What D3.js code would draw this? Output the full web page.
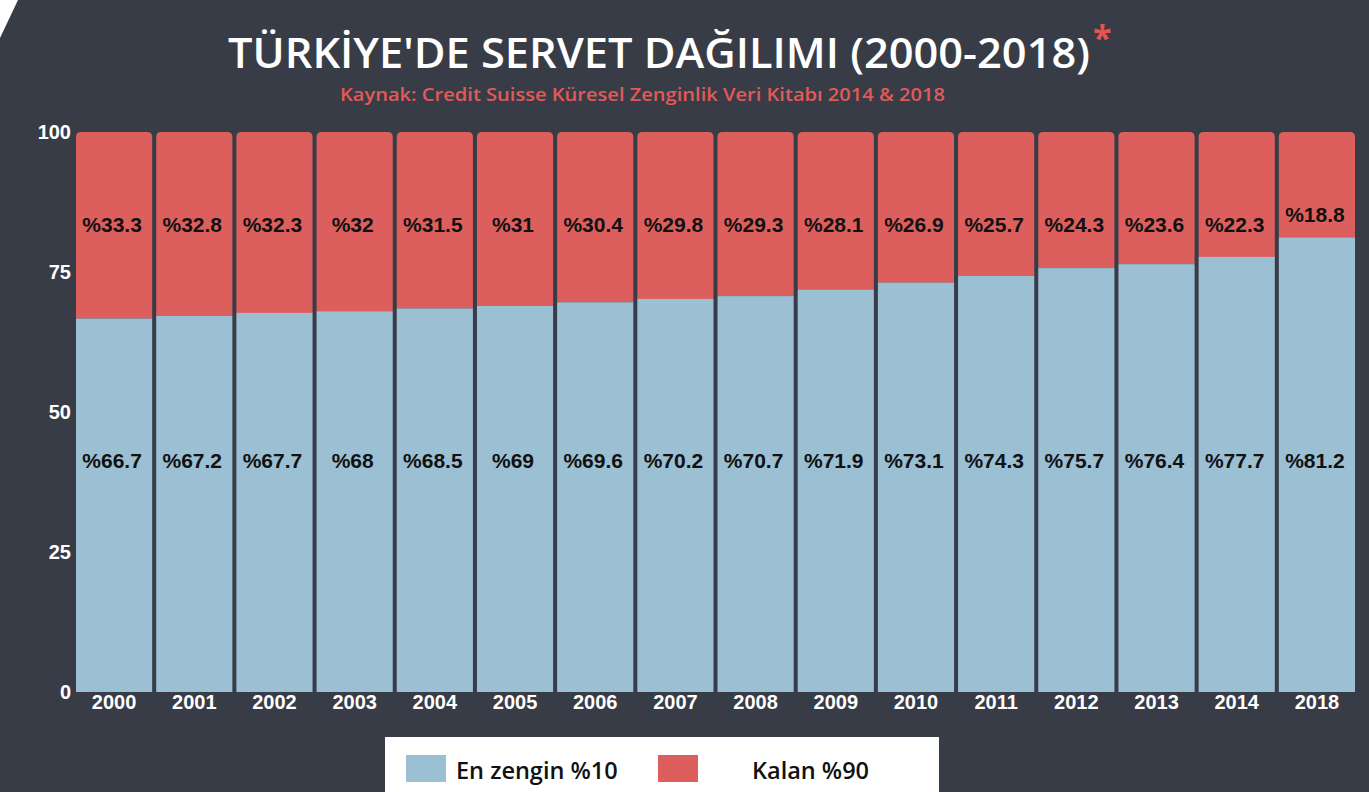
<!DOCTYPE html>
<html><head><meta charset="utf-8">
<script src="https://cdn.jsdelivr.net/npm/d3@7"></script>
<style>html,body{margin:0;padding:0;background:#373c47;overflow:hidden}</style>
</head><body>
<svg id="c" width="1369" height="792"></svg>
<script>
const years = ["2000","2001","2002","2003","2004","2005","2006","2007","2008","2009","2010","2011","2012","2013","2014","2018"];
const richest10 = [66.7,67.2,67.7,68,68.5,69,69.6,70.2,70.7,71.9,73.1,74.3,75.7,76.4,77.7,81.2];
const rest90 = [33.3,32.8,32.3,32,31.5,31,30.4,29.8,29.3,28.1,26.9,25.7,24.3,23.6,22.3,18.8];
const yTicks = [0,25,50,75,100];
const seriesNames = ["En zengin %10","Kalan %90"];
const colors = ["#9bbfd3","#dc5f5e"];

const W=1369,H=792;
const svg=d3.select("#c");
svg.append("rect").attr("width",W).attr("height",H).attr("fill","#373c47");
svg.append("path").attr("d","M0,0 L18,0 L0,38 Z").attr("fill","#ffffff");

const x=d3.scaleBand().domain(years).range([74,1357]).paddingInner(0.05).paddingOuter(0.025);
const y=d3.scaleLinear().domain([0,100]).range([692,132]);

const data=years.map((yr,i)=>({year:yr,a:richest10[i],b:rest90[i]}));

const bw=x.bandwidth(), r=5;
svg.append("g").selectAll("path").data(data).join("path")
  .attr("fill",colors[1])
  .attr("d",d=>{const x0=x(d.year),x1=x0+bw,y0=y(d.a+d.b),y1=y(d.a);
    return `M${x0},${y1}L${x0},${y0+r}Q${x0},${y0} ${x0+r},${y0}L${x1-r},${y0}Q${x1},${y0} ${x1},${y0+r}L${x1},${y1}Z`;});
svg.append("g").selectAll("rect").data(data).join("rect")
  .attr("fill",colors[0]).attr("x",d=>x(d.year)).attr("width",bw)
  .attr("y",d=>y(d.a)).attr("height",d=>y(0)-y(d.a));

const lab=svg.append("g").attr("font-family","'Liberation Sans',Arial,sans-serif").attr("font-weight","bold").attr("font-size",21).attr("fill","#111").attr("text-anchor","middle");
lab.selectAll("text.b").data(data).join("text").attr("class","b")
  .attr("x",d=>x(d.year)+bw/2-2).attr("y",y(41.3)).attr("dy","0.35em").text(d=>"%"+d.a);
lab.selectAll("text.r").data(data).join("text").attr("class","r")
  .attr("x",d=>x(d.year)+bw/2-2).attr("y",d=>Math.min(y(83.4),y(d.a)-23)).attr("dy","0.35em").text(d=>"%"+d.b);

const yAx=svg.append("g").attr("transform","translate(71,0)")
  .call(d3.axisLeft(y).tickValues(yTicks).tickSize(0).tickPadding(0));
yAx.select(".domain").remove();
yAx.selectAll("text").attr("fill","#fff").attr("font-size",20).attr("font-weight","bold").attr("font-family","'Liberation Sans',Arial,sans-serif");
const xAx=svg.append("g").attr("transform","translate(0,692)")
  .call(d3.axisBottom(x).tickSize(0).tickPadding(3));
xAx.select(".domain").remove();
xAx.selectAll("text").attr("fill","#fff").attr("font-size",20).attr("font-weight","bold").attr("font-family","'Liberation Sans',Arial,sans-serif");

svg.append("text").attr("x",228).attr("y",68).attr("textLength",862).attr("lengthAdjust","spacingAndGlyphs")
  .attr("font-family","'Open Sans',sans-serif").attr("font-weight",600).attr("font-size",42).attr("fill","#fff")
  .text("TÜRKİYE'DE SERVET DAĞILIMI (2000-2018)");
svg.append("text").attr("x",1093).attr("y",50).attr("font-family","'Open Sans',sans-serif").attr("font-weight",700)
  .attr("font-size",34).attr("fill","#e8524f").text("*");
svg.append("text").attr("x",340).attr("y",101).attr("textLength",605).attr("lengthAdjust","spacingAndGlyphs")
  .attr("font-family","'Open Sans',sans-serif").attr("font-weight",600).attr("font-size",18).attr("fill","#e25a57")
  .text("Kaynak: Credit Suisse Küresel Zenginlik Veri Kitabı 2014 & 2018");

const lg=svg.append("g");
lg.append("rect").attr("x",385).attr("y",737).attr("width",554).attr("height",60).attr("fill","#fff");
const lx=[406,658], tx=[456,752];
seriesNames.forEach((n,i)=>{
  lg.append("rect").attr("x",lx[i]).attr("y",755).attr("width",40).attr("height",27).attr("fill",colors[i]);
  lg.append("text").attr("x",tx[i]).attr("y",779).attr("font-family","'Open Sans',sans-serif").attr("font-weight",600)
    .attr("font-size",23.5).attr("fill","#111").text(n);
});
</script>
</body></html>
